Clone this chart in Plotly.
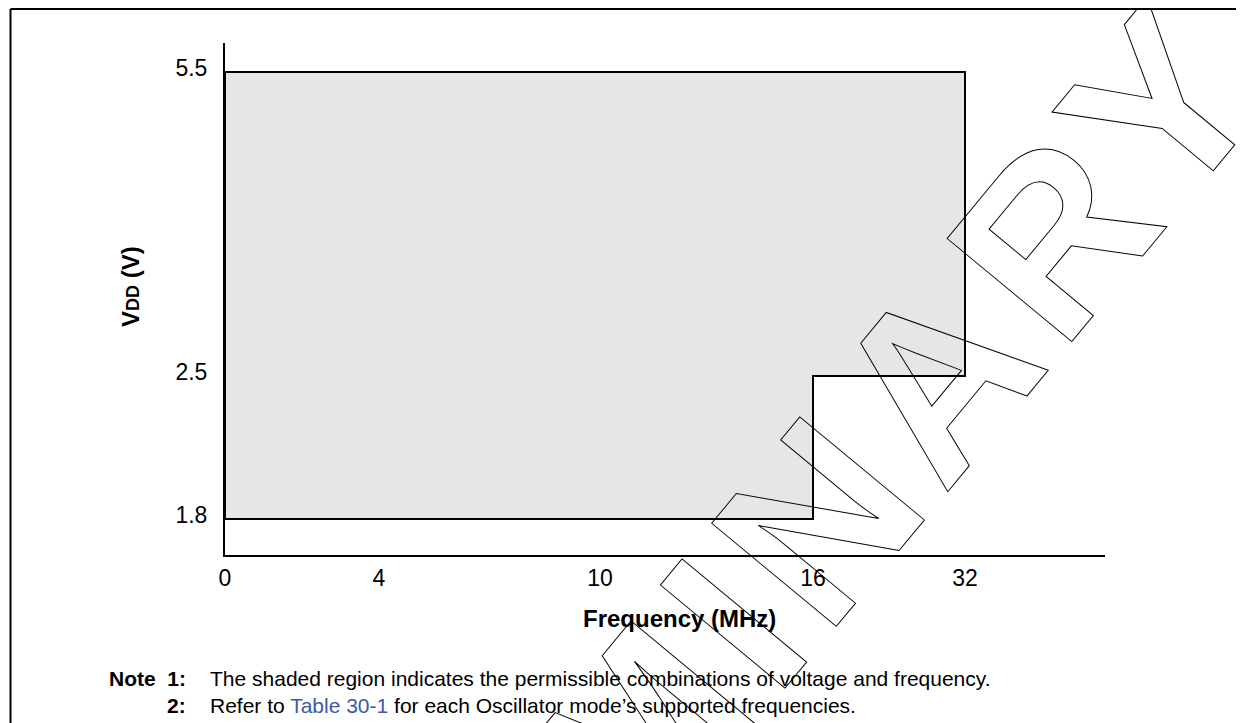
import numpy as np
import plotly.graph_objects as go

# ---- data ----
freq_ticks = [0, 4, 10, 16, 32]            # MHz tick labels on the (non-linear) frequency axis
vdd_ticks = [1.8, 2.5, 5.5]                # V tick labels on the (non-linear) voltage axis
region_freq = [0, 0, 32, 32, 16, 16, 0]    # permissible operating region outline
region_vdd = [1.8, 5.5, 5.5, 2.5, 2.5, 1.8, 1.8]

# ---- axis scale (the original chart uses an uneven, schematic scale) ----
X_SCALE = [0, 154, 375, 588, 740]          # display units for freq_ticks
Y_SCALE = [36, 179, 483]                   # display units for vdd_ticks
X_RANGE = [0, 880]
Y_RANGE = [0, 512]

def fx(v):
    return np.interp(v, freq_ticks, X_SCALE)

def fy(v):
    return np.interp(v, vdd_ticks, Y_SCALE)

FONT = "Liberation Sans, Arial, sans-serif"
OFF = 8                       # page offset of the figure (default body margin)
FIG_W, FIG_H = 1244, 723
L, T, W, H = 225 - OFF, 43 - OFF, 880, 512

def px(xp):                   # page pixel -> paper x
    return (xp - OFF - L) / W

def py(yp):                   # page pixel -> paper y
    return (T + H - (yp - OFF)) / H

fig = go.Figure()
fig.add_trace(go.Scatter(
    x=fx(region_freq), y=fy(region_vdd),
    mode="lines", fill="toself", fillcolor="#e6e6e6",
    line=dict(color="black", width=2), hoverinfo="skip", showlegend=False,
))

fig.update_layout(
    width=FIG_W, height=FIG_H,
    margin=dict(l=L, r=FIG_W - L - W, t=T, b=FIG_H - T - H, pad=0),
    paper_bgcolor="white", plot_bgcolor="white",
    font=dict(family=FONT, color="black", size=23),
    showlegend=False,
    xaxis=dict(range=X_RANGE, tickvals=list(fx(freq_ticks)), ticktext=[str(v) for v in freq_ticks],
               showgrid=False, zeroline=False, showline=True, linecolor="black", linewidth=2,
               ticks="", ticklabelstandoff=1, tickfont=dict(size=23, family=FONT)),
    yaxis=dict(range=Y_RANGE, tickvals=list(fy(vdd_ticks)), ticktext=[str(v) for v in vdd_ticks],
               showgrid=False, zeroline=False, showline=True, linecolor="black", linewidth=2,
               ticks="", ticklabelstandoff=11, ticklabelshift=-4, tickfont=dict(size=23, family=FONT)),
)

# outer frame (left and top edges of the figure box)
fig.add_shape(type="line", xref="paper", yref="paper", x0=px(10.5), x1=px(1260), y0=py(9), y1=py(9),
              line=dict(color="black", width=2))
fig.add_shape(type="line", xref="paper", yref="paper", x0=px(10.5), x1=px(10.5), y0=py(9), y1=py(760),
              line=dict(color="black", width=2))

def note(x, y, text, size, xanchor="center", angle=0):
    fig.add_annotation(xref="paper", yref="paper", x=px(x), y=py(y), showarrow=False,
                       xanchor=xanchor, yanchor="middle", textangle=angle,
                       text=text, font=dict(size=size, family=FONT, color="black"))

# axis titles
note(130, 287, "<b>V<span style='font-size:18px'>DD</span> (V)</b>", 24, angle=-90)
note(679, 618, "<b>Frequency (MHz)</b>", 24)

# notes
note(188, 678, "<b>Note  1:</b>", 21, xanchor="right")
note(188, 705, "<b>2:</b>", 21, xanchor="right")
note(208, 678, "The shaded region indicates the permissible combinations of voltage and frequency.", 21,
     xanchor="left")
note(208, 705, "Refer to <span style='color:#3a5aa8'>Table 30-1</span> for each Oscillator mode’s supported frequencies.",
     21, xanchor="left")

# watermark (outlined text)
note(654, 718,
     "<span style='fill:none;stroke:#000;stroke-width:1px;letter-spacing:15px'><b>PRELIMINARY</b></span>",
     235, angle=-50.4)

fig.write_html("out.html")
